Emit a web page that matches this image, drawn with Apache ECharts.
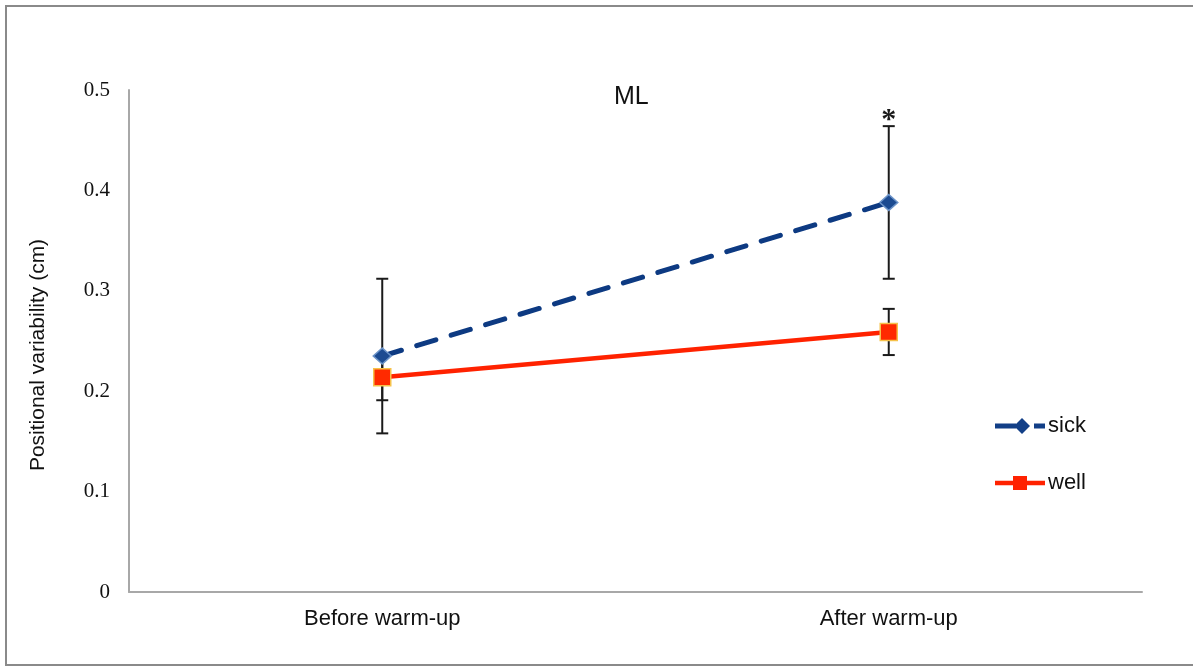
<!DOCTYPE html>
<html>
<head>
<meta charset="utf-8">
<script src="https://cdn.jsdelivr.net/npm/echarts@6/dist/echarts.min.js"></script>
<style>
  html, body { margin: 0; padding: 0; background: #ffffff; }
  #chart { width: 1193px; height: 666px; }
</style>
</head>
<body>
<div id="chart"></div>
<script>
// Positional variability (ML) before and after warm-up
const categories = ['Before warm-up', 'After warm-up'];
const sickMean = [0.235, 0.388];
const sickErr = [0.077, 0.076];
const wellMean = [0.214, 0.259];
const wellErr = [0.023, 0.023];
const sickMarks = ['', '*'];   // significance markers above the sick error bars
const yTickLabels = ['0', '0.1', '0.2', '0.3', '0.4', '0.5'];

const SICK_LINE = { color: '#0d3a82', width: 5, type: [20, 16], cap: 'round' };
const WELL_LINE = { color: '#ff2200', width: 4.5 };

// Legend glyphs: line segment + marker (+ short dash for the dashed series), 50x16 box
const SICK_ICON = 'path://M0,5.5H21V10.5H0Z M27,0L35,8L27,16L19,8Z M39,5.5H50V10.5H39Z';
const WELL_ICON = 'path://M0,5.75H18V10.25H0Z M18,1H32V15H18Z M32,5.75H50V10.25H32Z';

// Vertical error bar with end caps, optional marker text above the top cap
function errorSeries(name, mean, err, marks) {
  return {
    type: 'custom',
    name: name + ' error',
    z: 1,
    silent: true,
    data: mean.map((m, i) => [i, m - err[i], m + err[i]]),
    encode: { x: 0, y: [1, 2] },
    renderItem(params, api) {
      const top = api.coord([api.value(0), api.value(2)]);
      const bot = api.coord([api.value(0), api.value(1)]);
      const hw = 6;
      const stroke = { stroke: '#1a1a1a', lineWidth: 2 };
      const children = [
        { type: 'line', shape: { x1: top[0], y1: top[1], x2: bot[0], y2: bot[1] }, style: stroke },
        { type: 'line', shape: { x1: top[0] - hw, y1: top[1], x2: top[0] + hw, y2: top[1] }, style: stroke },
        { type: 'line', shape: { x1: bot[0] - hw, y1: bot[1], x2: bot[0] + hw, y2: bot[1] }, style: stroke }
      ];
      const mark = marks && marks[params.dataIndex];
      if (mark) {
        children.push({
          type: 'text',
          style: {
            text: mark, x: top[0], y: top[1] + 9,
            align: 'center', verticalAlign: 'bottom',
            font: 'bold 30px "Liberation Serif"', fill: '#1a1a1a'
          }
        });
      }
      return { type: 'group', children };
    }
  };
}

const chart = echarts.init(document.getElementById('chart'));
chart.setOption({
  animation: false,
  backgroundColor: '#ffffff',
  title: {
    text: 'ML',
    left: 609,
    top: 80,
    textStyle: { fontFamily: 'Liberation Sans', fontSize: 25, fontWeight: 'normal', color: '#111111' }
  },
  graphic: [{
    type: 'rect',
    silent: true,
    shape: { x: 6, y: 6, width: 1210, height: 659 },
    style: { fill: 'none', stroke: '#8a8a8a', lineWidth: 2 }
  }],
  legend: {
    data: [
      { name: 'sick', icon: SICK_ICON, itemStyle: { color: '#123f87', borderWidth: 0 } },
      { name: 'well', icon: WELL_ICON, itemStyle: { color: '#ff2200', borderWidth: 0 } }
    ],
    orient: 'vertical',
    left: 990,
    top: 410,
    itemWidth: 50,
    itemHeight: 16,
    itemGap: 35,
    textStyle: { fontFamily: 'Liberation Sans', fontSize: 22, color: '#111111', padding: [0, 0, 0, -2] }
  },
  grid: { left: 129, right: 51, top: 90, bottom: 74, containLabel: false },
  xAxis: {
    type: 'category',
    data: categories,
    boundaryGap: true,
    axisLine: { lineStyle: { color: '#a8a8a8', width: 2 } },
    axisTick: { show: false },
    axisLabel: { fontFamily: 'Liberation Sans', fontSize: 22, color: '#111111', margin: 16 },
    splitLine: { show: false }
  },
  yAxis: {
    type: 'value',
    min: 0,
    max: 0.5,
    interval: 0.1,
    name: 'Positional variability (cm)',
    nameLocation: 'middle',
    nameGap: 80,
    nameTextStyle: { fontFamily: 'Liberation Sans', fontSize: 21, color: '#111111', padding: [0, 28, 0, 0] },
    axisLine: { show: true, lineStyle: { color: '#a8a8a8', width: 2 } },
    axisTick: { show: false },
    axisLabel: {
      fontFamily: 'Liberation Serif', fontSize: 21, color: '#111111', margin: 19,
      formatter: v => yTickLabels[Math.round(v * 10)]
    },
    splitLine: { show: false }
  },
  series: [
    errorSeries('sick', sickMean, sickErr, sickMarks),
    errorSeries('well', wellMean, wellErr, null),
    {
      name: 'sick',
      type: 'line',
      z: 3,
      data: sickMean,
      symbol: 'diamond',
      symbolSize: [18, 16],
      lineStyle: SICK_LINE,
      itemStyle: { color: '#1c4b91', borderColor: '#6b93c8', borderWidth: 1.5 }
    },
    {
      name: 'well',
      type: 'line',
      z: 4,
      data: wellMean,
      symbol: 'rect',
      symbolSize: 17,
      lineStyle: WELL_LINE,
      itemStyle: { color: '#ff2a00', borderColor: '#f6c24a', borderWidth: 1.5 }
    }
  ]
});
</script>
</body>
</html>
